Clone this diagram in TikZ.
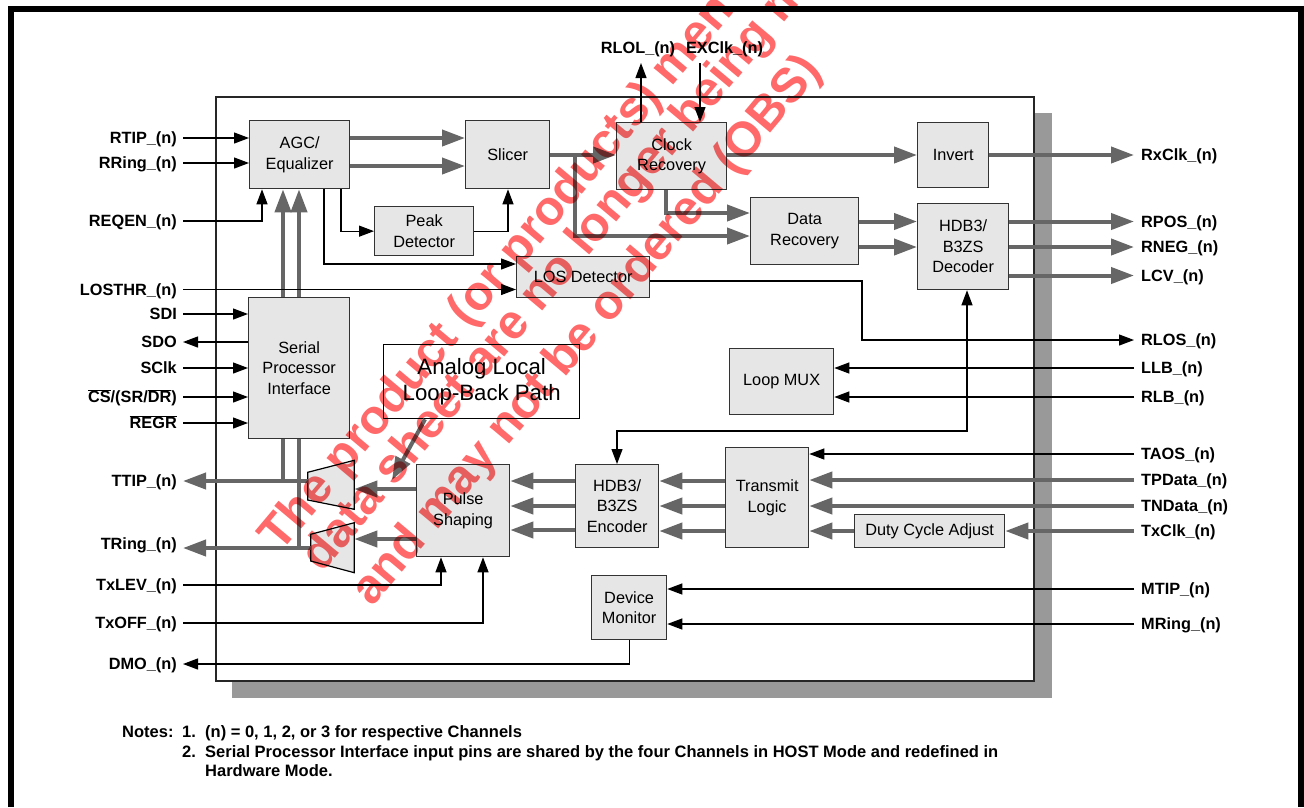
\documentclass[tikz,border=0pt]{standalone}
\usepackage{fontspec}
\setmainfont{Liberation Sans}
\usetikzlibrary{arrows.meta}
\definecolor{boxfill}{HTML}{E6E6E6}
\definecolor{boxline}{HTML}{333333}
\definecolor{thickc}{HTML}{666666}
\definecolor{shadowc}{HTML}{999999}
\definecolor{wmred}{RGB}{255,105,105}
\pgfdeclarelayer{bg}
\pgfsetlayers{bg,main}
\newcommand\lblfont{\fontsize{16.3}{19}\selectfont\bfseries}
\begin{document}
\begin{tikzpicture}[x=1pt,y=-1pt,
  blk/.style={draw=boxline, fill=boxfill, line width=1.3pt, anchor=north west, inner sep=0pt, align=center, font=\fontsize{16.3}{20.5}\selectfont},
  lblL/.style={anchor=base east, inner sep=0pt, font=\lblfont, yshift=-5.5pt},
  lblR/.style={anchor=base west, inner sep=0pt, font=\lblfont, yshift=-5.5pt},
  lblT/.style={anchor=base, inner sep=0pt, font=\lblfont},
  notefont/.style={anchor=base west, inner sep=0pt, font=\fontsize{16.5}{19}\selectfont\bfseries},
  wmark/.style={anchor=base west, inner sep=0pt, rotate=50, text=wmred, font=\fontsize{48.5}{50}\selectfont\bfseries},
  sig/.style={line width=1.2pt, draw=black},
  sigarr/.style={sig, -{Triangle[length=15pt,width=11pt]}},
  sigboth/.style={sig, {Triangle[length=15pt,width=11pt]}-{Triangle[length=15pt,width=11pt]}},
  bus/.style={line width=4pt, draw=thickc},
  busarr/.style={bus, -{Triangle[length=23pt,width=16pt]}},
  drv/.style={draw=black, fill=boxfill, line width=1.2pt},
]
\useasboundingbox (0,0) rectangle (1304,807);

% outer frame
\draw[line width=6pt] (10.5,807) -- (10.5,9) -- (1300.5,9) -- (1300.5,807);

% ---------- blocks ----------
\node[blk, minimum width=100pt, minimum height=68pt] (agc) at (249,120) {AGC/\\Equalizer};
\node[blk, minimum width=84pt, minimum height=68pt] (slicer) at (465,120) {Slicer};
\node[blk, minimum width=110pt, minimum height=67pt] (clk) at (616,122) {Clock\\Recovery};
\node[blk, minimum width=71pt, minimum height=65pt] (inv) at (917,122) {Invert};
\node[blk, minimum width=99pt, minimum height=49pt] (peak) at (374,206) {Peak\\Detector};
\node[blk, minimum width=108pt, minimum height=67pt] (datarec) at (750,197) {Data\\Recovery};
\node[blk, minimum width=91pt, minimum height=86pt] (dec) at (917,203) {HDB3/\\B3ZS\\Decoder};
\node[blk, minimum width=133pt, minimum height=41pt] (los) at (516,256) {LOS Detector};
\node[blk, minimum width=101pt, minimum height=141pt] (spi) at (248,297) {Serial\\Processor\\Interface};
\node[blk, fill=white, draw=black, minimum width=196pt, minimum height=74pt, font=\fontsize{22.2}{26.7}\selectfont] (alb) at (383,344) {Analog Local\\Loop-Back Path};
\node[blk, minimum width=104pt, minimum height=66pt] (mux) at (729,348) {Loop MUX};
\node[blk, minimum width=83pt, minimum height=83pt] (enc) at (575,464) {HDB3/\\B3ZS\\Encoder};
\node[blk, minimum width=83pt, minimum height=100pt] (txl) at (725,447) {Transmit\\Logic};
\node[blk, minimum width=150pt, minimum height=33pt] (duty) at (854,514) {Duty Cycle Adjust};
\node[blk, minimum width=93pt, minimum height=92pt] (pulse) at (416,464) {Pulse\\Shaping};
\node[blk, minimum width=75pt, minimum height=64pt] (dm) at (591,575) {Device\\Monitor};

% line drivers
\draw[drv] (307.7,472.3) -- (354.3,460.3) -- (354.3,509.3) -- (307.7,500) -- cycle;
\draw[drv] (310.7,534.3) -- (354.3,522.7) -- (354.3,572.7) -- (310.7,561) -- cycle;
\coordinate (ttipdrvL) at (307.7,481);
\coordinate (ttipdrvR) at (354.3,489);
\coordinate (tringdrvL) at (310.7,548);
\coordinate (tringdrvR) at (354.3,539);
\coordinate (albtip) at (392,480);
\coordinate (rlolpin) at (641,63);
\coordinate (exclkpin) at (700,63);

% background: shadow, chip outline, buses behind the SPI block
\begin{pgfonlayer}{bg}
  \fill[shadowc] (1034,113) rectangle (1052,698);
  \fill[shadowc] (232,681) rectangle (1052,698);
  \draw[line width=1.3pt, draw=black!85, fill=white] (216,97) rectangle (1034,681);
  \draw[busarr] (283,481) -- (agc.south -| 283,0);
  \draw[busarr] (299,548) -- (agc.south -| 299,0);
\end{pgfonlayer}

% ---------- pin labels ----------
\node[lblL] (rtip) at (177,138) {RTIP\_(n)};
\node[lblL] (rring) at (177,163) {RRing\_(n)};
\node[lblL] (reqen) at (177,221) {REQEN\_(n)};
\node[lblL] (losthr) at (177,289.5) {LOSTHR\_(n)};
\node[lblL] (sdi) at (177,314) {SDI};
\node[lblL] (sdo) at (177,342) {SDO};
\node[lblL] (sclk) at (177,368) {SClk};
\node[lblL] (cs) at (177,397) {$\overline{\mbox{CS}}$/(SR/$\overline{\mbox{DR}}$)};
\node[lblL] (regr) at (177,423) {$\overline{\mbox{REGR}}$};
\node[lblL] (ttip) at (177,481) {TTIP\_(n)};
\node[lblL] (tring) at (177,544) {TRing\_(n)};
\node[lblL] (txlev) at (177,585) {TxLEV\_(n)};
\node[lblL] (txoff) at (177,623) {TxOFF\_(n)};
\node[lblL] (dmo) at (177,664) {DMO\_(n)};

\node[lblR] (rxclk) at (1141,155) {RxClk\_(n)};
\node[lblR] (rpos) at (1141,221.5) {RPOS\_(n)};
\node[lblR] (rneg) at (1141,247) {RNEG\_(n)};
\node[lblR] (lcv) at (1141,275.5) {LCV\_(n)};
\node[lblR] (rlos) at (1141,340) {RLOS\_(n)};
\node[lblR] (llb) at (1141,368) {LLB\_(n)};
\node[lblR] (rlb) at (1141,397) {RLB\_(n)};
\node[lblR] (taos) at (1141,454) {TAOS\_(n)};
\node[lblR] (tpdata) at (1141,480) {TPData\_(n)};
\node[lblR] (tndata) at (1141,506) {TNData\_(n)};
\node[lblR] (txclk) at (1141,531) {TxClk\_(n)};
\node[lblR] (mtip) at (1141,589) {MTIP\_(n)};
\node[lblR] (mring) at (1141,624) {MRing\_(n)};

\node[lblT] (rlol) at (638,53) {RLOL\_(n)};
\node[lblT] (exclk) at (724.5,53) {EXClk\_(n)};

% ---------- thin signal connectors ----------
\draw[sigarr] ([shift={(6pt,5.5pt)}]rtip.base east) -- (agc.west |- 0,138);
\draw[sigarr] ([shift={(6pt,5.5pt)}]rring.base east) -- (agc.west |- 0,163);
\draw[sigarr] ([shift={(6pt,5.5pt)}]reqen.base east) -| (agc.south -| 262,0);
\draw[sigarr] ([shift={(6pt,5.5pt)}]losthr.base east) -- (los.west |- 0,289.5);
\draw[sigarr] ([shift={(6pt,5.5pt)}]sdi.base east) -- (spi.west |- 0,314);
\draw[sigarr] (spi.west |- 0,342) -- ([shift={(6pt,5.5pt)}]sdo.base east);
\draw[sigarr] ([shift={(6pt,5.5pt)}]sclk.base east) -- (spi.west |- 0,368);
\draw[sigarr] ([shift={(6pt,5.5pt)}]cs.base east) -- (spi.west |- 0,397);
\draw[sigarr] ([shift={(6pt,5.5pt)}]regr.base east) -- (spi.west |- 0,423);
\draw[sigarr] ([shift={(6pt,5.5pt)}]txlev.base east) -| (pulse.south -| 441,0);
\draw[sigarr] ([shift={(6pt,5.5pt)}]txoff.base east) -| (pulse.south -| 483,0);
\draw[sigarr] (dm.south) |- ([shift={(6pt,5.5pt)}]dmo.base east);

\draw[sigarr] (agc.south -| 341,0) |- (peak.west);
\draw[sigarr] (peak.east) -| (slicer.south -| 508,0);
\draw[sigarr] (agc.south -| 324,0) |- (los.west |- 0,264);
\draw[sigarr] (los.east |- 0,281) -| (862,340) -- ([shift={(-7pt,5.5pt)}]rlos.base west);
\draw[sigarr] (clk.north -| 641,0) -- (rlolpin);
\draw[sigarr] (exclkpin) -- (clk.north -| 700,0);
\draw[sigarr] ([shift={(-7pt,5.5pt)}]llb.base west) -- (mux.east |- 0,368);
\draw[sigarr] ([shift={(-7pt,5.5pt)}]rlb.base west) -- (mux.east |- 0,397);
\draw[sigarr] ([shift={(-7pt,5.5pt)}]taos.base west) -- (txl.east |- 0,454);
\draw[sigarr] ([shift={(-7pt,5.5pt)}]mtip.base west) -- (dm.east |- 0,589);
\draw[sigarr] ([shift={(-7pt,5.5pt)}]mring.base west) -- (dm.east |- 0,624);
\draw[sigboth] (enc.north -| 617,0) |- (967,431) -- (dec.south -| 967,0);

% ---------- thick bus connectors ----------
\draw[busarr] (agc.east |- 0,138) -- (slicer.west |- 0,138);
\draw[busarr] (agc.east |- 0,166) -- (slicer.west |- 0,166);
\draw[busarr] (slicer.east |- 0,155) -- (clk.west |- 0,155);
\draw[busarr] (slicer.east |- 0,155) -| (575,236) -- (datarec.west |- 0,236);
\draw[busarr] (clk.south -| 666,0) |- (datarec.west |- 0,213);
\draw[busarr] (clk.east |- 0,155) -- (inv.west |- 0,155);
\draw[busarr] (inv.east |- 0,155) -- ([shift={(-7pt,5.5pt)}]rxclk.base west);
\draw[busarr] (datarec.east |- 0,221.5) -- (dec.west |- 0,221.5);
\draw[busarr] (datarec.east |- 0,247) -- (dec.west |- 0,247);
\draw[busarr] (dec.east |- 0,221.5) -- ([shift={(-7pt,5.5pt)}]rpos.base west);
\draw[busarr] (dec.east |- 0,247) -- ([shift={(-7pt,5.5pt)}]rneg.base west);
\draw[busarr] (dec.east |- 0,275.5) -- ([shift={(-7pt,5.5pt)}]lcv.base west);
\draw[busarr] ([shift={(-7pt,5.5pt)}]tpdata.base west) -- (txl.east |- 0,480);
\draw[busarr] ([shift={(-7pt,5.5pt)}]tndata.base west) -- (txl.east |- 0,506);
\draw[busarr] ([shift={(-7pt,5.5pt)}]txclk.base west) -- (duty.east |- 0,531);
\draw[busarr] (duty.west |- 0,531) -- (txl.east |- 0,531);
\draw[busarr] (txl.west |- 0,481) -- (enc.east |- 0,481);
\draw[busarr] (txl.west |- 0,506) -- (enc.east |- 0,506);
\draw[busarr] (txl.west |- 0,531) -- (enc.east |- 0,531);
\draw[busarr] (enc.west |- 0,481) -- (pulse.east |- 0,481);
\draw[busarr] (enc.west |- 0,506) -- (pulse.east |- 0,506);
\draw[busarr] (enc.west |- 0,530) -- (pulse.east |- 0,530);
\draw[busarr] (pulse.west |- 0,489) -- (ttipdrvR);
\draw[busarr] (pulse.west |- 0,539) -- (tringdrvR);
\draw[busarr] (ttipdrvL) -- ([shift={(6pt,5.5pt)}]ttip.base east);
\draw[busarr] (tringdrvL) -- ([shift={(6pt,1.5pt)}]tring.base east);
\draw[busarr] (alb.south -| 425,0) -- (albtip);

% ---------- notes ----------
\node[notefont] (nh) at (122,737) {Notes:};
\node[notefont] (n1) at (182,737) {1.};
\node[notefont] (n1t) at (205,737) {(n) = 0, 1, 2, or 3 for respective Channels};
\node[notefont] (n2) at (182,757) {2.};
\node[notefont] (n2t) at (205,757) {Serial Processor Interface input pins are shared by the four Channels in HOST Mode and redefined in};
\node[notefont] (n3t) at (205,776) {Hardware Mode.};

% ---------- watermark ----------
\begin{scope}[blend mode=multiply]
  \clip (0,0) rectangle (1304,807);
  \node[wmark] (wm1) at (280,554) {The product (or products) men};
  \node[wmark] (wm2) at (322,574) {data sheet are no longer being m};
  \node[wmark] (wm3) at (372,608) {and may not be ordered (OBS)};
\end{scope}
\end{tikzpicture}
\end{document}
